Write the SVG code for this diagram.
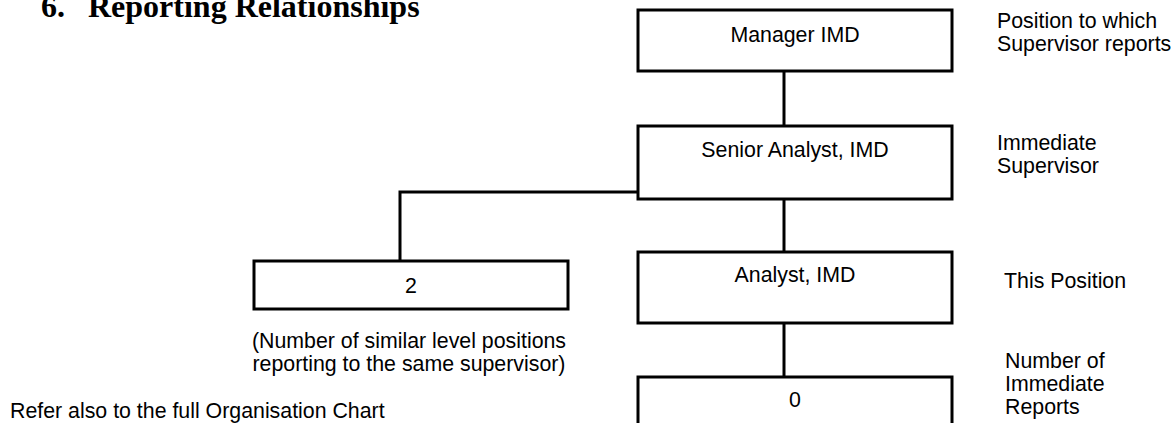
<svg xmlns="http://www.w3.org/2000/svg" width="1175" height="423" viewBox="0 0 1175 423">
<style>
  .box { fill: #ffffff; stroke: #000000; stroke-width: 3; }
  .conn { fill: none; stroke: #000000; stroke-width: 3; }
  .t { font-family: "Liberation Sans", Arial, sans-serif; font-size: 21.33px; fill: #000000; }
  .c { text-anchor: middle; }
  .title { font-family: "Liberation Serif", "Times New Roman", serif; font-size: 32px; font-weight: bold; fill: #000000; }
</style>
<rect width="1175" height="423" fill="#ffffff"/>
<g id="title">
  <text class="title" x="41" y="17">6.</text>
  <text class="title" x="88" y="17">Reporting Relationships</text>
</g>
<g id="connectors">
  <line class="conn" x1="784" y1="71" x2="784" y2="126"/>
  <polyline class="conn" points="638,192 400,192 400,261"/>
  <line class="conn" x1="784" y1="199" x2="784" y2="252"/>
  <line class="conn" x1="784" y1="323" x2="784" y2="377"/>
</g>
<g id="manager">
  <rect class="box" x="638" y="10" width="314" height="61"/>
  <text class="t c" x="795" y="42">Manager IMD</text>
</g>
<g id="senior">
  <rect class="box" x="638" y="126" width="314" height="73"/>
  <text class="t c" x="795" y="157">Senior Analyst, IMD</text>
</g>
<g id="peers">
  <rect class="box" x="254" y="261" width="314" height="48"/>
  <text class="t c" x="411" y="293">2</text>
</g>
<g id="analyst">
  <rect class="box" x="638" y="252" width="314" height="71"/>
  <text class="t c" x="795" y="282">Analyst, IMD</text>
</g>
<g id="reports">
  <rect class="box" x="638" y="377" width="314" height="50"/>
  <text class="t c" x="795" y="407">0</text>
</g>
<g id="labels">
  <text class="t" x="997" y="28">Position to which</text>
  <text class="t" x="997" y="51">Supervisor reports</text>
  <text class="t" x="997" y="150">Immediate</text>
  <text class="t" x="997" y="173">Supervisor</text>
  <text class="t" x="1004" y="288">This Position</text>
  <text class="t" x="1005" y="368">Number of</text>
  <text class="t" x="1005" y="391">Immediate</text>
  <text class="t" x="1005" y="414">Reports</text>
  <text class="t c" x="409" y="348">(Number of similar level positions</text>
  <text class="t c" x="409" y="371">reporting to the same supervisor)</text>
  <text class="t" x="10" y="418">Refer also to the full Organisation Chart</text>
</g>
</svg>
